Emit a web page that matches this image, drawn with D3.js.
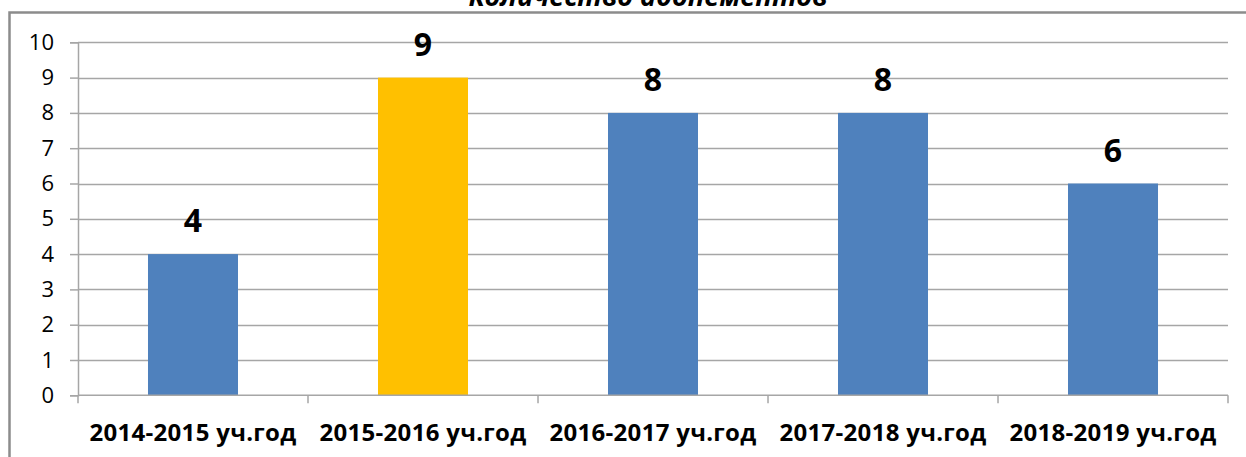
<!DOCTYPE html>
<html>
<head>
<meta charset="utf-8">
<script src="https://cdn.jsdelivr.net/npm/d3@7"></script>
<style>
   body { margin: 0; background: #fff; overflow: hidden; }
</style>
</head>
<body>
<div id="chart"></div>
<script>
// Les données du graphique
const titre = "Количество абонементов"
const categories = ["2014-2015 уч.год", "2015-2016 уч.год", "2016-2017 уч.год", "2017-2018 уч.год", "2018-2019 уч.год"]
const valeurs = [4, 9, 8, 8, 6]
const couleurs = ["#4f81bd", "#ffc000", "#4f81bd", "#4f81bd", "#4f81bd"]
const ticksY = [0, 1, 2, 3, 4, 5, 6, 7, 8, 9, 10]

const largeur = 1246, hauteur = 457
const marge = {gauche: 78, droite: 1228, haut: 42.3, bas: 395.3}

const svg = d3.select("#chart")
   .append("svg")
   .attr("width", largeur)
   .attr("height", hauteur)

// Cadre du graphique (bord gauche et haut visibles)
svg.append("path")
   .attr("d", `M9.5,${hauteur + 5} L9.5,12.5 L${largeur + 5},12.5`)
   .attr("fill", "none")
   .attr("stroke", "#8c8c8c")
   .attr("stroke-width", 2.5)

// Titre (coupé en haut)
svg.append("text")
   .attr("x", 648)
   .attr("y", 6)
   .attr("text-anchor", "middle")
   .attr("font-family", "'Open Sans', sans-serif")
   .attr("font-weight", "bold")
   .attr("font-style", "italic")
   .attr("font-size", 27)
   .attr("fill", "#000")
   .text(titre)

const x = d3.scaleBand()
   .domain(categories)
   .range([marge.gauche, marge.droite])
   .paddingInner(0.6087)
   .paddingOuter(0.3043)

const y = d3.scaleLinear()
   .domain([0, 10])
   .range([marge.bas, marge.haut])

// Lignes de grille horizontales
svg.append("g")
   .selectAll("line")
   .data(ticksY.filter(t => t > 0))
   .join("line")
   .attr("x1", marge.gauche)
   .attr("x2", marge.droite)
   .attr("y1", d => Math.round(y(d)) + 0.5)
   .attr("y2", d => Math.round(y(d)) + 0.5)
   .attr("stroke", "#a6a6a6")
   .attr("stroke-width", 1.5)

// Axe Y
const axeY = svg.append("g")
   .attr("transform", `translate(${marge.gauche},0)`)
   .call(d3.axisLeft(y).tickValues(ticksY).tickSize(8).tickPadding(16).tickFormat(d3.format("d")))
axeY.select(".domain").attr("stroke", "#a6a6a6").attr("stroke-width", 1.5)
axeY.selectAll(".tick line").attr("stroke", "#a6a6a6").attr("stroke-width", 1.5)
axeY.selectAll(".tick text")
   .attr("font-family", "'Open Sans', sans-serif")
   .attr("font-size", 22)
   .attr("fill", "#000")

// Barres
svg.append("g")
   .selectAll("rect")
   .data(valeurs)
   .join("rect")
   .attr("x", (d, i) => x(categories[i]))
   .attr("y", d => y(d))
   .attr("width", x.bandwidth())
   .attr("height", d => y(0) - y(d))
   .attr("fill", (d, i) => couleurs[i])

// Axe X (avec les graduations entre les catégories)
const frontieres = categories.map(c => x(c) - x.step() * x.paddingOuter()).concat([marge.droite])
svg.append("line")
   .attr("x1", marge.gauche)
   .attr("x2", marge.droite)
   .attr("y1", y(0))
   .attr("y2", y(0))
   .attr("stroke", "#a6a6a6")
   .attr("stroke-width", 1.5)
svg.append("g")
   .selectAll("line")
   .data(frontieres)
   .join("line")
   .attr("x1", d => d)
   .attr("x2", d => d)
   .attr("y1", y(0))
   .attr("y2", y(0) + 8)
   .attr("stroke", "#a6a6a6")
   .attr("stroke-width", 1.5)

svg.append("g")
   .selectAll("text")
   .data(categories)
   .join("text")
   .attr("x", d => x(d) + x.bandwidth() / 2)
   .attr("y", 441)
   .attr("text-anchor", "middle")
   .attr("font-family", "'Open Sans', sans-serif")
   .attr("font-weight", "bold")
   .attr("font-size", 24)
   .attr("letter-spacing", 0.3)
   .attr("fill", "#000")
   .text(d => d)

// Étiquettes des valeurs
svg.append("g")
   .selectAll("text")
   .data(valeurs)
   .join("text")
   .attr("x", (d, i) => x(categories[i]) + x.bandwidth() / 2)
   .attr("y", d => y(d) - 22)
   .attr("text-anchor", "middle")
   .attr("font-family", "'Open Sans', sans-serif")
   .attr("font-weight", "bold")
   .attr("font-size", 32)
   .attr("fill", "#000")
   .text(d => d)
</script>
</body>
</html>
